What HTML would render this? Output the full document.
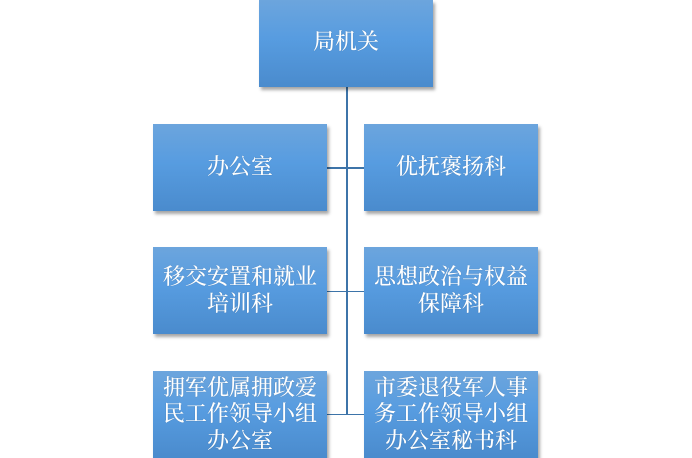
<!DOCTYPE html>
<html>
<head>
<meta charset="utf-8">
<style>
  html,body{margin:0;padding:0;background:#fff;}
  body{width:692px;height:458px;position:relative;overflow:hidden;
    font-family:"Liberation Serif","Noto Serif CJK SC",serif;}
  .box{position:absolute;width:174px;height:87px;
    background:linear-gradient(to bottom,#6ca5dd 0%,#579ce0 45%,#4a8bcd 100%);
    box-shadow:2px 3px 3px rgba(0,0,0,0.35);
    color:#fff;font-size:22px;line-height:26.5px;text-align:center;font-weight:500;
    display:flex;align-items:center;justify-content:center;
    text-shadow:0 0 1px rgba(0,0,0,0.25);}
  .box span{display:block;width:160px;}
  .v{position:absolute;left:346px;top:87px;width:1.5px;height:327px;background:#3d74a9;}
  .h{position:absolute;left:327px;width:37px;height:1.5px;background:#3d74a9;}
</style>
</head>
<body>
<div class="v"></div>
<div class="h" style="top:167px"></div>
<div class="h" style="top:290.5px"></div>
<div class="h" style="top:413.5px"></div>

<div class="box" style="left:259px;top:0px;height:87px;"><span style="margin-top:-2px">局机关</span></div>

<div class="box" style="left:153px;top:124px;"><span>办公室</span></div>
<div class="box" style="left:364px;top:124px;"><span>优抚褒扬科</span></div>

<div class="box" style="left:153px;top:247px;"><span>移交安置和就业<br>培训科</span></div>
<div class="box" style="left:364px;top:247px;"><span>思想政治与权益<br>保障科</span></div>

<div class="box" style="left:153px;top:371px;"><span>拥军优属拥政爱<br>民工作领导小组<br>办公室</span></div>
<div class="box" style="left:364px;top:371px;"><span>市委退役军人事<br>务工作领导小组<br>办公室秘书科</span></div>
</body>
</html>
